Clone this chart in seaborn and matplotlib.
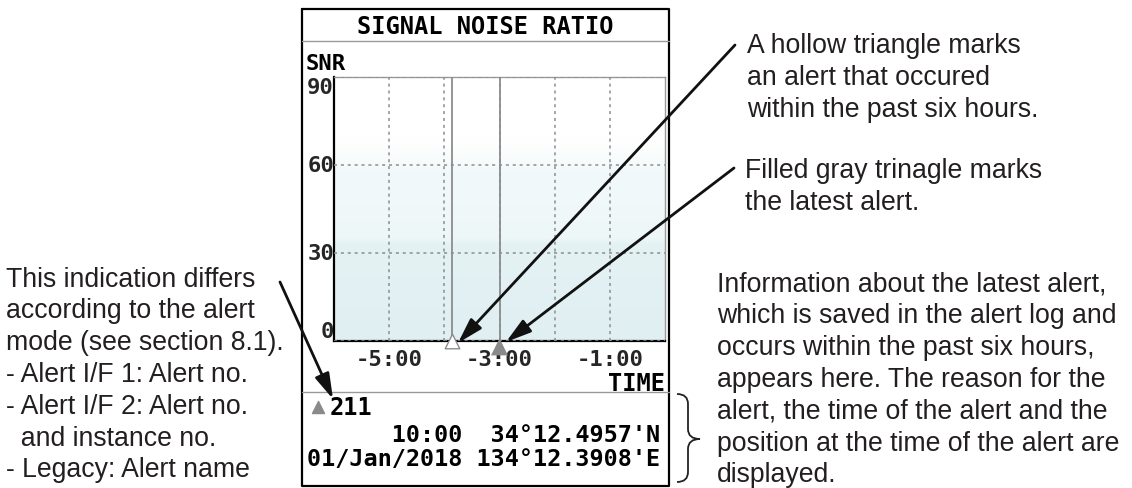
import numpy as np
import matplotlib
matplotlib.use("Agg")
import matplotlib.pyplot as plt
from matplotlib.path import Path
from matplotlib.patches import PathPatch
from matplotlib.colors import LinearSegmentedColormap
import seaborn as sns
import pandas as pd

# ---------------- data ----------------
title = "SIGNAL NOISE RATIO"
y_label = "SNR"
x_label = "TIME"
y_ticks = [0, 30, 60, 90]
x_ticks = [-5, -3, -1]
x_tick_labels = ["-5:00", "-3:00", "-1:00"]
x_range = [-6, 0]
alert_times = [-3.87, -3.0]          # hours before now
alert_kind = ["past", "latest"]
alert_no = "211"
alert_line1 = "      10:00  34°12.4957'N"
alert_line2 = "01/Jan/2018 134°12.3908'E"

note_hollow = "A hollow triangle marks\nan alert that occured\nwithin the past six hours."
note_filled = "Filled gray trinagle marks\nthe latest alert."
note_info = ("Information about the latest alert,\nwhich is saved in the alert log and\n"
             "occurs within the past six hours,\nappears here. The reason for the\n"
             "alert, the time of the alert and the\nposition at the time of the alert are\ndisplayed.")
note_left = ("This indication differs\naccording to the alert\nmode (see section 8.1).\n"
             "- Alert I/F 1: Alert no.\n- Alert I/F 2: Alert no.\n  and instance no.\n- Legacy: Alert name")

# ---------------- figure ----------------
sns.set_theme(style="white")
plt.rcParams['font.family'] = ['Liberation Sans', 'DejaVu Sans']
W, H = 1132, 489
fig = plt.figure(figsize=(W / 100, H / 100), dpi=100)

mono = dict(family='DejaVu Sans Mono', weight='bold', color='black')

# plot area in pixels
L, R, T, B = 334, 665, 78, 342
ax = fig.add_axes([L / W, 1 - B / H, (R - L) / W, (B - T) / H])

# background gradient
stops = [(0.0, '#e0eff2'), (33 / 90, '#e4f2f4'), (35 / 90, '#eef7f8'),
         (58 / 90, '#f2f9fa'), (64 / 90, '#fbfdfd'), (70 / 90, '#ffffff'), (1.0, '#ffffff')]
cmap = LinearSegmentedColormap.from_list('bg', stops)
grad = np.linspace(0, 1, 256).reshape(-1, 1)
ax.imshow(grad, extent=[x_range[0], x_range[1], 0, 90], origin='lower',
          aspect='auto', cmap=cmap, zorder=0)

# alert triangles on time axis
df = pd.DataFrame({"time": alert_times, "kind": alert_kind})
past = df[df.kind == "past"]
latest = df[df.kind == "latest"]
sns.scatterplot(x=past.time.values, y=[0] * len(past), marker='^', s=110, facecolor='white',
                edgecolor='#8c8c8c', linewidth=1.0, ax=ax, clip_on=False, zorder=5, legend=False)
sns.scatterplot(x=latest.time.values, y=[-2] * len(latest), marker='^', s=150, color='#8a8a8a',
                edgecolor='none', linewidth=0, ax=ax, clip_on=False, zorder=5, legend=False)

ax.set_xlim(*x_range)
ax.set_ylim(0, 90)

# grid / ticks
ax.set_xticks(x_ticks)
ax.set_xticklabels(x_tick_labels, fontdict=dict(family='DejaVu Sans Mono', weight='bold', size=16))
ax.set_xticks([-4, -2], minor=True)
ax.set_yticks(y_ticks)
ax.set_yticklabels([str(v) for v in y_ticks], fontdict=dict(family='DejaVu Sans Mono', weight='bold', size=16))
for lab, va in zip(ax.get_yticklabels(), ['bottom', 'center', 'center', 'top']):
    lab.set_verticalalignment(va)
ax.tick_params(axis='both', which='both', length=0)
ax.tick_params(axis='x', pad=6)
ax.tick_params(axis='y', pad=0)
ax.grid(True, which='both', axis='x', linestyle=(0, (2, 2.5)), color='#8a8f91', lw=1.1)
ax.grid(True, which='major', axis='y', linestyle=(0, (2, 2.5)), color='#8a8f91', lw=1.1)
ax.set_axisbelow(False)

for t in alert_times:
    ax.axvline(t, color='#8c8c8c', lw=1.3, zorder=2)

for s in ['left', 'bottom']:
    ax.spines[s].set_color('black')
    ax.spines[s].set_linewidth(1.6)
for s in ['top', 'right']:
    ax.spines[s].set_color('#9a9a9a')
    ax.spines[s].set_linewidth(1.0)

ax.set_xlabel("")
ax.set_ylabel("")

ax.text(1.0, -0.115, x_label, transform=ax.transAxes, ha='right', va='top', size=17, **mono)

# ---------------- overlay in pixel coordinates ----------------
ov = fig.add_axes([0, 0, 1, 1])
ov.set_xlim(0, W)
ov.set_ylim(H, 0)
ov.axis('off')
ov.set_zorder(10)
ov.patch.set_alpha(0)

# screen frame
ov.plot([302, 302, 669, 669, 302], [10, 487, 487, 10, 10], color='black', lw=1.6)
ov.plot([302, 669], [42, 42], color='#9a9a9a', lw=1.0)
ov.plot([302, 669], [393, 393], color='#9a9a9a', lw=1.0)

ov.text(485.5, 27, title, ha='center', va='center', size=17, **mono)
ov.text(306, 64, y_label, ha='left', va='center', size=16, **mono)

# info area
ov.scatter([318], [408], marker='^', s=75, color='#8a8a8a', zorder=5)
ov.text(330, 408, alert_no, ha='left', va='center', size=17, **mono)
ov.text(307, 435, alert_line1, ha='left', va='center', size=16.9, **mono)
ov.text(307, 460, alert_line2, ha='left', va='center', size=16.9, **mono)

# annotation texts
tcol = '#231f20'
ls = 1.29
ov.text(747, 78, note_hollow, ha='left', va='center', size=19.2, color=tcol, linespacing=ls)
ov.text(745, 187, note_filled, ha='left', va='center', size=19.2, color=tcol, linespacing=ls)
ov.text(717, 380, note_info, ha='left', va='center', size=19.2, color=tcol, linespacing=ls)
ov.text(6, 375, note_left, ha='left', va='center', size=19.2, color=tcol, linespacing=ls)

# arrows
astyle = dict(arrowstyle='-|>,head_length=0.85,head_width=0.25', lw=2.0, color='#111111',
              mutation_scale=18, shrinkA=0, shrinkB=0)
ov.annotate('', xy=(458, 344), xytext=(735, 46), arrowprops=astyle)
ov.annotate('', xy=(506, 343), xytext=(734, 169), arrowprops=astyle)
ov.annotate('', xy=(333, 400), xytext=(280, 283), arrowprops=astyle)

# brace
verts = [(677, 395), (688, 395), (688, 405), (688, 405),
         (688, 430), (688, 430), (688, 440), (700, 440),
         (688, 440), (688, 450), (688, 450),
         (688, 473), (688, 473), (688, 483), (677, 483)]
codes = [Path.MOVETO, Path.CURVE3, Path.CURVE3, Path.LINETO,
         Path.LINETO, Path.LINETO, Path.CURVE3, Path.CURVE3,
         Path.CURVE3, Path.CURVE3, Path.LINETO,
         Path.LINETO, Path.LINETO, Path.CURVE3, Path.CURVE3]
ov.add_patch(PathPatch(Path(verts, codes), fill=False, lw=1.3, edgecolor='#222'))

fig.savefig("out.png", dpi=100)
